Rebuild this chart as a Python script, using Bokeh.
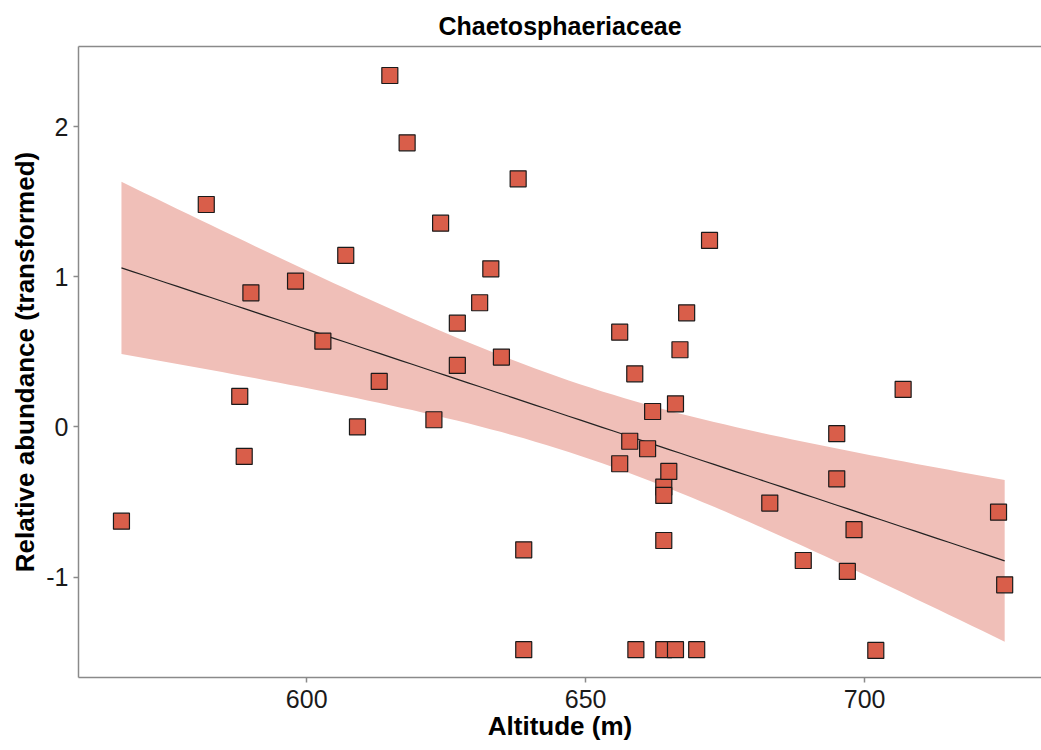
import numpy as np
from bokeh.plotting import figure
from bokeh.models import Range1d, LinearAxis, ColumnDataSource, FixedTicker
from bokeh.embed import file_html
from bokeh.resources import INLINE

# Data
altitude = [566.8, 582.0, 588.0, 588.8, 590.0, 598.0, 602.9, 607.0, 609.1, 613.0,
            614.9, 618.0, 622.8, 624.0, 627.0, 627.0, 631.0, 633.0, 634.9, 637.9,
            638.9, 638.9, 656.1, 656.1, 657.9, 658.8, 659.0, 661.1, 662.0, 664.0,
            664.0, 664.0, 664.0, 664.9, 666.1, 666.1, 666.9, 668.1, 669.9, 672.2,
            683.0, 689.0, 695.0, 695.0, 696.9, 698.1, 702.0, 706.9, 724.0, 725.1]
abundance = [-0.627, 1.481, 0.203, -0.196, 0.893, 0.971, 0.571, 1.142, 0.0, 0.303,
             2.34, 1.892, 0.048, 1.357, 0.691, 0.41, 0.827, 1.053, 0.465, 1.652,
             -0.818, -1.483, 0.631, -0.245, -0.095, 0.354, -1.483, -0.145, 0.103, -0.40,
             -0.456, -0.756, -1.483, -0.296, 0.154, -1.483, 0.514, 0.76, -1.483, 1.242,
             -0.507, -0.889, -0.045, -0.345, -0.962, -0.684, -1.488, 0.25, -0.567, -1.051]

x_ticks = [600, 650, 700]
y_ticks = [-1, 0, 1, 2]
y_tick_labels = {-1: "-1", 0: "0", 1: "1", 2: "2"}
title = "Chaetosphaeriaceae"
x_label = "Altitude (m)"
y_label = "Relative abundance (transformed)"

# Linear model fit with 95% confidence band (as geom_smooth(method="lm"))
x = np.array(altitude)
y = np.array(abundance)
n = len(x)
b1, b0 = np.polyfit(x, y, 1)
resid = y - (b0 + b1 * x)
s = np.sqrt(np.sum(resid ** 2) / (n - 2))
t_crit = 2.0106  # t(0.975, df=48)
xg = np.linspace(x.min(), x.max(), 80)
fit = b0 + b1 * xg
se = s * np.sqrt(1.0 / n + (xg - x.mean()) ** 2 / np.sum((x - x.mean()) ** 2))
lower = fit - t_crit * se
upper = fit + t_crit * se

FONT = "Liberation Sans"

p = figure(width=1041, height=750, output_backend="svg", toolbar_location=None,
           x_range=Range1d(559.1, 731.7), y_range=Range1d(-1.668, 2.533),
           min_border_left=78, min_border_top=46, min_border_bottom=73, min_border_right=0)
p.xgrid.visible = False
p.ygrid.visible = False
p.outline_line_color = None
p.background_fill_color = "white"
p.border_fill_color = "white"

p.title.text = title
p.title.align = "center"
p.title.text_font = FONT
p.title.text_font_size = "25px"
p.title.text_font_style = "bold"
p.title.text_color = "black"
p.title.offset = 0
p.title.standoff = 13

band = ColumnDataSource(dict(x=xg, lower=lower, upper=upper, fit=fit))
p.varea(x="x", y1="lower", y2="upper", source=band, fill_color="#F0BFB8", fill_alpha=1.0)
p.line(x="x", y="fit", source=band, line_color="#222222", line_width=1.2)

pts = ColumnDataSource(dict(x=altitude, y=abundance))
p.scatter(x="x", y="y", source=pts, marker="square", size=16,
          fill_color="#D95E4A", line_color="#1a1a1a", line_width=1.2)

for ax in (p.xaxis[0], p.yaxis[0]):
    ax.axis_line_color = "#8a8a8a"
    ax.axis_line_width = 1.5
    ax.major_tick_line_color = "#8a8a8a"
    ax.major_tick_line_width = 1.5
    ax.major_tick_out = 5
    ax.major_tick_in = 0
    ax.minor_tick_line_color = None
    ax.major_label_text_font = FONT
    ax.major_label_text_font_size = "25px"
    ax.major_label_text_color = "#1a1a1a"
    ax.axis_label_text_font = FONT
    ax.axis_label_text_font_size = "26px"
    ax.axis_label_text_font_style = "bold"
    ax.axis_label_text_color = "black"

p.xaxis[0].ticker = FixedTicker(ticks=x_ticks)
p.yaxis[0].ticker = FixedTicker(ticks=y_ticks)
p.yaxis[0].major_label_overrides = y_tick_labels
p.xaxis[0].axis_label = x_label
p.yaxis[0].axis_label = y_label
p.xaxis[0].major_label_standoff = 7
p.xaxis[0].axis_label_standoff = 0
p.yaxis[0].major_label_standoff = 5
p.yaxis[0].axis_label_standoff = 3

top = LinearAxis(ticker=FixedTicker(ticks=[]), major_label_text_font_size="0px",
                 axis_line_color="#8a8a8a", axis_line_width=1.5,
                 major_tick_line_color=None, minor_tick_line_color=None)
p.add_layout(top, "above")

open("out.html", "w").write(file_html(p, INLINE))
